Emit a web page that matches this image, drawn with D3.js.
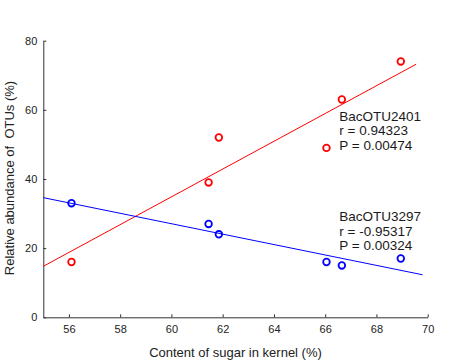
<!DOCTYPE html>
<html>
<head>
<meta charset="utf-8">
<style>
  body { margin: 0; background: #fff; font-family: "Liberation Sans", Arial, sans-serif; }
  svg { display: block; }
</style>
</head>
<body>
<div id="chart"></div>
<script src="https://cdn.jsdelivr.net/npm/d3@7"></script>
<script>
// data
var sugar = [56.1, 61.45, 61.85, 66.05, 66.65, 68.95];
var otu2401 = [16, 39, 52, 49, 63, 74];
var otu3297 = [33, 27, 24, 16, 15, 17];
// fitted line end points as drawn
var fit2401 = [[55, 14.75], [69.55, 73.2]];
var fit3297 = [[55, 34.6], [69.8, 12.3]];
var xTicks = [56, 58, 60, 62, 64, 66, 68, 70];
var yTicks = [0, 20, 40, 60, 80];
var notes2401 = ['BacOTU2401', 'r = 0.94323', 'P = 0.00474'];
var notes3297 = ['BacOTU3297', 'r = -0.95317', 'P = 0.00324'];

var width = 450, height = 362;
var margin = {top: 40.7, right: 22.3, bottom: 44.7, left: 43.3};
var innerWidth = width - margin.left - margin.right;
var innerHeight = height - margin.top - margin.bottom;
var font = '"Liberation Sans", Arial, sans-serif';

var svg = d3.select('#chart').append('svg')
    .attr('width', width)
    .attr('height', height)
    .style('font-family', font);

var g = svg.append('g')
    .attr('transform', 'translate(' + margin.left + ',' + margin.top + ')');

var x = d3.scaleLinear().domain([55, 70]).range([0, innerWidth]);
var y = d3.scaleLinear().domain([0, 80]).range([innerHeight, 0]);

// axes, ticks point inward
var xAxis = g.append('g')
    .attr('transform', 'translate(0,' + innerHeight + ')')
    .call(d3.axisBottom(x).tickValues(xTicks).tickSize(-3).tickPadding(8).tickSizeOuter(0));
var yAxis = g.append('g')
    .call(d3.axisLeft(y).tickValues(yTicks).tickSize(-3).tickPadding(6).tickSizeOuter(0));

[xAxis, yAxis].forEach(function(a) {
    a.attr('font-family', font).attr('font-size', 11);
    a.select('.domain').attr('stroke', '#333');
    a.selectAll('.tick line').attr('stroke', '#333');
    a.selectAll('.tick text').attr('fill', '#222');
});

// regression lines
var line = d3.line()
    .x(function(d) { return x(d[0]); })
    .y(function(d) { return y(d[1]); });

g.append('path').datum(fit2401)
    .attr('fill', 'none').attr('stroke', '#ff0000').attr('stroke-width', 1)
    .attr('d', line);
g.append('path').datum(fit3297)
    .attr('fill', 'none').attr('stroke', '#0000ff').attr('stroke-width', 1)
    .attr('d', line);

// points
var series = [
    {values: otu2401, color: '#ff0000'},
    {values: otu3297, color: '#0000ff'}
];
series.forEach(function(s) {
    g.selectAll(null)
        .data(s.values)
        .enter()
        .append('circle')
        .attr('cx', function(d, i) { return x(sugar[i]); })
        .attr('cy', function(d) { return y(d); })
        .attr('r', 3.3)
        .attr('fill', 'none')
        .attr('stroke', s.color)
        .attr('stroke-width', 1.8);
});

// annotations
function notes(lines, tx, ty) {
    var t = g.append('text')
        .attr('x', x(tx))
        .attr('y', y(ty))
        .attr('fill', '#1a1a1a')
        .style('font-size', '13.5px');
    t.selectAll('tspan')
        .data(lines)
        .enter()
        .append('tspan')
        .attr('x', x(tx))
        .attr('dy', function(d, i) { return i === 0 ? 0 : 14.5; })
        .text(function(d) { return d; });
}
notes(notes2401, 66.55, 56.8);
notes(notes3297, 66.55, 27.8);

// axis titles
g.append('text')
    .attr('x', innerWidth / 2 + 0)
    .attr('y', innerHeight + 39.5)
    .attr('text-anchor', 'middle')
    .attr('fill', '#222')
    .style('font-size', '13px')
    .text('Content of sugar in kernel (%)');

g.append('text')
    .attr('transform', 'translate(' + (-29) + ',' + (178 - margin.top) + ') rotate(-90)')
    .attr('text-anchor', 'middle')
    .attr('fill', '#222')
    .style('font-size', '13px')
    .style('white-space', 'pre')
    .text('Relative abundance of  OTUs (%)');
</script>
</body>
</html>
